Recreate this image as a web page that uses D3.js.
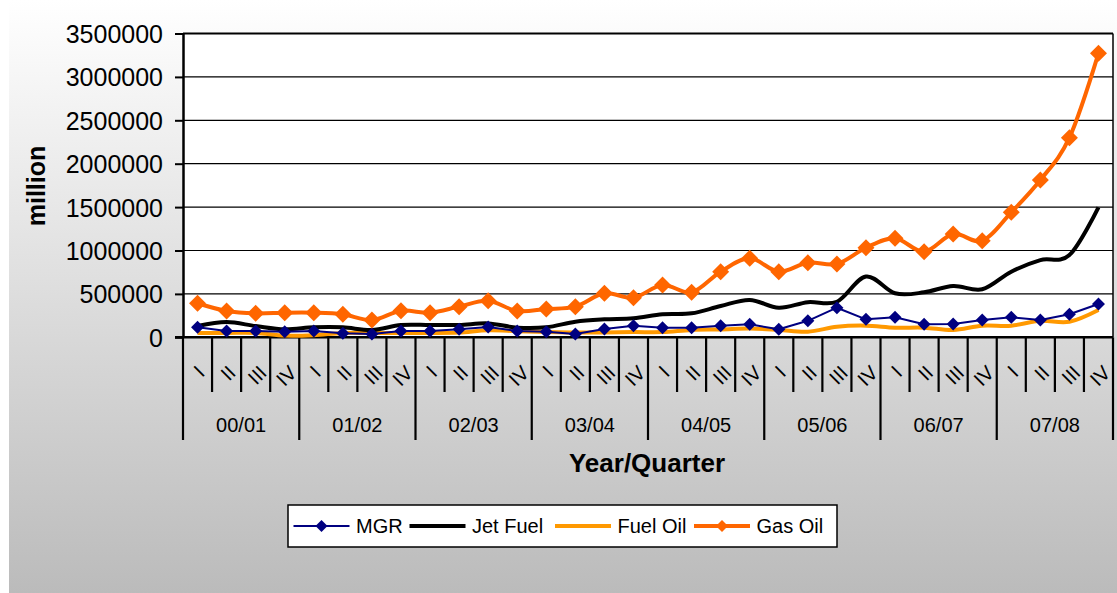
<!DOCTYPE html>
<html>
<head>
<meta charset="utf-8">
<script src="https://cdnjs.cloudflare.com/ajax/libs/d3/7.8.5/d3.min.js"></script>
<style>
    body { margin: 0; background: #ffffff; }
    svg { display: block; font-family: 'Liberation Sans', Arial, sans-serif; }
    .axis text { fill: #000; }
</style>
</head>
<body>
<svg id="svg-chart" width="1117" height="593"></svg>
<script>
////////////
/// DATA ///
////////////

const years = ['00/01', '01/02', '02/03', '03/04', '04/05', '05/06', '06/07', '07/08'];
const quarters = ['I', 'II', 'III', 'IV'];
const yTicks = [0, 500000, 1000000, 1500000, 2000000, 2500000, 3000000, 3500000];

const mgr = [115000, 73000, 73000, 65000, 73000, 46000, 38000, 73000,
    73000, 92000, 118000, 73000, 65000, 38000, 96000, 134000,
    111000, 111000, 134000, 150000, 92000, 190000, 341000, 207000,
    230000, 150000, 153000, 199000, 230000, 199000, 265000, 384000];

const jetFuel = [130000, 175000, 130000, 92000, 115000, 115000, 84000, 142000,
    142000, 142000, 160000, 111000, 115000, 180000, 207000, 219000,
    265000, 276000, 360000, 430000, 341000, 405000, 410000, 700000,
    507000, 518000, 591000, 553000, 756000, 890000, 948000, 1498000];

const fuelOil = [50000, 50000, 50000, 20000, 25000, 50000, 50000, 50000,
    50000, 55000, 80000, 70000, 60000, 55000, 55000, 60000,
    60000, 85000, 90000, 100000, 85000, 65000, 122000, 134000,
    111000, 111000, 84000, 134000, 134000, 190000, 180000, 315000];

const gasOil = [392000, 303000, 276000, 283000, 283000, 265000, 199000, 306000,
    283000, 353000, 420000, 303000, 326000, 353000, 507000, 456000,
    603000, 518000, 756000, 910000, 756000, 860000, 844000, 1032000,
    1141000, 986000, 1190000, 1113000, 1440000, 1812000, 2300000, 3272000];

// one entry per series, in drawing order
const seriesNames = ['Fuel Oil', 'Jet Fuel', 'MGR', 'Gas Oil'];
const seriesValues = [fuelOil, jetFuel, mgr, gasOil];
const seriesColors = ['#FF9900', '#000000', '#000080', '#FF6600'];

//////////////
/// LAYOUT ///
//////////////

const plotLeft = 183, plotRight = 1113, plotTop = 33.5, plotBottom = 337.3;
const fontFamily = "'Liberation Sans', Arial, sans-serif";

const svg = d3.select('#svg-chart');

// background gradient
const grad = svg.append('defs')
    .append('linearGradient')
    .attr('id', 'bg-grad')
    .attr('x1', 0).attr('y1', 0).attr('x2', 0).attr('y2', 1);
grad.append('stop').attr('offset', '0%').attr('stop-color', '#ffffff');
grad.append('stop').attr('offset', '100%').attr('stop-color', '#bbbbbb');

svg.append('rect')
    .attr('x', 9).attr('y', 0)
    .attr('width', 1108).attr('height', 593)
    .attr('fill', 'url(#bg-grad)');

// plot area
svg.append('rect')
    .attr('x', plotLeft).attr('y', plotTop)
    .attr('width', plotRight - plotLeft).attr('height', plotBottom - plotTop)
    .attr('fill', '#ffffff');

//////////////
/// SCALES ///
//////////////

const categories = d3.range(years.length * quarters.length);

const xScale = d3.scaleBand()
    .domain(categories)
    .range([plotLeft, plotRight])
    .padding(0);
const bw = xScale.bandwidth();

function xc(i) { return xScale(i) + bw / 2; }

const yScale = d3.scaleLinear()
    .domain([0, 3500000])
    .range([plotBottom, plotTop]);

/////////////////
/// GRIDLINES ///
/////////////////

svg.append('g')
    .attr('id', 'gridlines')
    .selectAll('line').data(yTicks.slice(1)).enter()
        .append('line')
        .attr('x1', plotLeft).attr('x2', plotRight)
        .attr('y1', function(d) { return yScale(d); })
        .attr('y2', function(d) { return yScale(d); })
        .attr('stroke', '#000')
        .attr('stroke-width', function(d, i) { return i == yTicks.length - 2 ? 2 : 1.2; });

// right border
svg.append('line')
    .attr('x1', plotRight).attr('x2', plotRight)
    .attr('y1', plotTop).attr('y2', plotBottom)
    .attr('stroke', '#000').attr('stroke-width', 1.5);

//////////////
/// Y AXIS ///
//////////////

const yAxis = svg.append('g')
    .attr('class', 'axis')
    .attr('transform', 'translate(' + plotLeft + ',0)')
    .call(d3.axisLeft(yScale).tickValues(yTicks).tickFormat(d3.format('d'))
        .tickSize(8).tickPadding(12).tickSizeOuter(0));
yAxis.select('.domain').attr('stroke-width', 2.5);
yAxis.selectAll('.tick line').attr('stroke-width', 2);
yAxis.selectAll('text')
    .attr('font-family', fontFamily)
    .attr('font-size', 25)
    .attr('dy', '0.36em');

svg.append('text')
    .attr('transform', 'translate(45,186) rotate(-90)')
    .attr('text-anchor', 'middle')
    .attr('font-family', fontFamily)
    .attr('font-size', 25)
    .attr('font-weight', 'bold')
    .text('million');

//////////////
/// X AXIS ///
//////////////

const xAxisG = svg.append('g').attr('id', 'x-axis');

xAxisG.append('line')
    .attr('x1', plotLeft - 8).attr('x2', plotRight)
    .attr('y1', plotBottom).attr('y2', plotBottom)
    .attr('stroke', '#000').attr('stroke-width', 2.5);

// boundary ticks: short between quarters, long between years
xAxisG.selectAll('.x-tick').data(d3.range(categories.length + 1)).enter()
    .append('line')
    .attr('class', 'x-tick')
    .attr('x1', function(d) { return d < categories.length ? xScale(d) : plotRight; })
    .attr('x2', function(d) { return d < categories.length ? xScale(d) : plotRight; })
    .attr('y1', plotBottom)
    .attr('y2', function(d) { return d % 4 == 0 ? 440 : 392; })
    .attr('stroke', '#000')
    .attr('stroke-width', 2.2);

// quarter labels, rotated
xAxisG.selectAll('.q-label').data(categories).enter()
    .append('text')
    .attr('class', 'q-label')
    .attr('font-family', fontFamily)
    .attr('font-size', 20)
    .attr('text-anchor', 'middle')
    .attr('dy', '0.35em')
    .text(function(d) { return quarters[d % 4]; })
    .attr('transform', function(d) {
        const len = this.getComputedTextLength();
        return 'translate(' + (xc(d) + 1.5) + ',' + (366 + len * 0.3536 + 3) + ') rotate(-45)';
    });

// year labels
xAxisG.selectAll('.y-label').data(years).enter()
    .append('text')
    .attr('class', 'y-label')
    .attr('font-family', fontFamily)
    .attr('font-size', 20)
    .attr('text-anchor', 'middle')
    .attr('x', function(d, i) { return (xScale(i * 4) + xScale(i * 4 + 3) + bw) / 2; })
    .attr('y', 432)
    .text(function(d) { return d; });

svg.append('text')
    .attr('x', 647).attr('y', 472)
    .attr('text-anchor', 'middle')
    .attr('font-family', fontFamily)
    .attr('font-size', 26)
    .attr('font-weight', 'bold')
    .text('Year/Quarter');

/////////////
/// LINES ///
/////////////

function diamond(r) {
    return 'M0,' + (-r) + 'L' + r + ',0L0,' + r + 'L' + (-r) + ',0Z';
}

// smoothed like the spreadsheet's "smoothed line" option
const lineSmooth = d3.line()
    .x(function(d, i) { return xc(i); })
    .y(function(d) { return yScale(d); })
    .curve(d3.curveCatmullRom.alpha(0));

const lineStraight = d3.line()
    .x(function(d, i) { return xc(i); })
    .y(function(d) { return yScale(d); });

const lineWidths = [4, 4, 2, 4];
const markerSize = [0, 0, 6.5, 8.5];

seriesValues.forEach(function(vals, j) {
    const g = svg.append('g').attr('id', 'series-' + j);
    g.append('path')
        .datum(vals)
        .attr('fill', 'none')
        .attr('stroke', seriesColors[j])
        .attr('stroke-width', lineWidths[j])
        .attr('stroke-linejoin', 'round')
        .attr('d', seriesNames[j] == 'MGR' ? lineStraight : lineSmooth);
    if (markerSize[j] > 0) {
        g.selectAll('path.marker').data(vals).enter()
            .append('path')
            .attr('class', 'marker')
            .attr('d', diamond(markerSize[j]))
            .attr('fill', seriesColors[j])
            .attr('transform', function(d, i) { return 'translate(' + xc(i) + ',' + yScale(d) + ')'; });
    }
});

//////////////
/// LEGEND ///
//////////////

const legendOrder = [2, 1, 0, 3];
const legendLineX = [293.5, 409.5, 555, 694];
const legendLineLen = 56;
const legendY = 526;

svg.append('rect')
    .attr('x', 288).attr('y', 505)
    .attr('width', 549).attr('height', 42)
    .attr('fill', '#fff')
    .attr('stroke', '#000').attr('stroke-width', 1.5);

const legend = svg.append('g').attr('id', 'legend')
    .selectAll('g').data(legendOrder).enter()
        .append('g')
        .attr('transform', function(d, i) { return 'translate(' + legendLineX[i] + ',' + legendY + ')'; });

legend.append('line')
    .attr('x1', 0).attr('x2', legendLineLen)
    .attr('stroke', function(d) { return seriesColors[d]; })
    .attr('stroke-width', function(d) { return lineWidths[d]; });

legend.filter(function(d) { return markerSize[d] > 0; })
    .append('path')
    .attr('d', diamond(6))
    .attr('transform', 'translate(' + legendLineLen / 2 + ',0)')
    .attr('fill', function(d) { return seriesColors[d]; });

legend.append('text')
    .attr('x', legendLineLen + 6.5)
    .attr('dy', '0.36em')
    .attr('font-family', fontFamily)
    .attr('font-size', 20)
    .text(function(d) { return seriesNames[d]; });
</script>
</body>
</html>
